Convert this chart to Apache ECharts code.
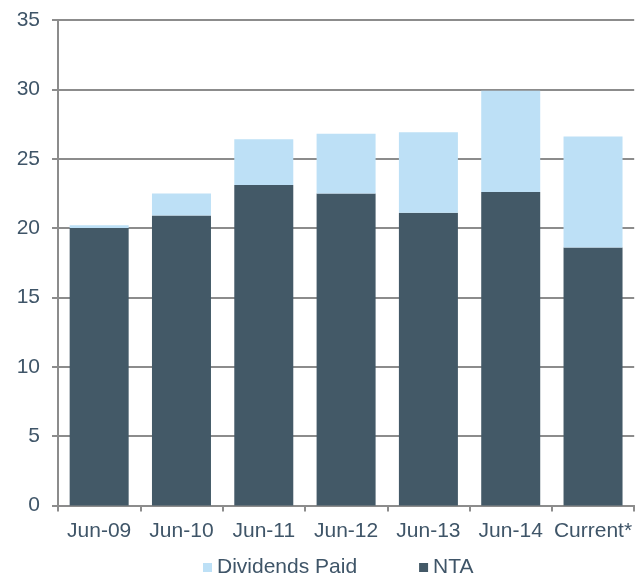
<!DOCTYPE html>
<html>
<head>
<meta charset="utf-8">
<script src="https://cdn.jsdelivr.net/npm/echarts@6/dist/echarts.min.js"></script>
<style>html,body{margin:0;padding:0;background:#fff}#c{width:635px;height:576px}</style>
</head>
<body>
<div id="c"></div>
<script>
var categories = ['Jun-09', 'Jun-10', 'Jun-11', 'Jun-12', 'Jun-13', 'Jun-14', 'Current*'];
var ntaValues = [20.0, 20.9, 23.1, 22.5, 21.1, 22.6, 18.6];
var dividendValues = [0.2, 1.6, 3.3, 4.3, 5.8, 7.3, 8.0];
var seriesNames = ['Dividends Paid', 'NTA'];

var textColor = '#3F5568';
var gridColor = '#8C8C8C';
var font = 'Liberation Sans, Arial, sans-serif';

var chart = echarts.init(document.getElementById('c'), null, {renderer: 'canvas'});
chart.setOption({
  animation: false,
  backgroundColor: '#ffffff',
  grid: {left: 58, right: -1, top: 20, bottom: 70.5, containLabel: false},
  legend: {
    data: seriesNames,
    left: 203, top: 557, padding: 0,
    itemWidth: 9, itemHeight: 9, itemGap: 62,
    icon: 'rect',
    textStyle: {color: textColor, fontSize: 21, fontFamily: font}
  },
  xAxis: {
    type: 'category',
    data: categories,
    axisLine: {lineStyle: {color: gridColor, width: 2}},
    axisTick: {show: true, length: 6, lineStyle: {color: gridColor, width: 2}},
    axisLabel: {color: textColor, fontSize: 21, fontFamily: font, margin: 15, interval: 0}
  },
  yAxis: {
    type: 'value',
    min: 0, max: 35, interval: 5,
    axisLine: {show: true, lineStyle: {color: gridColor, width: 2}},
    axisTick: {show: true, length: 6, lineStyle: {color: gridColor, width: 2}},
    axisLabel: {color: textColor, fontSize: 21, fontFamily: font, margin: 18},
    splitLine: {show: true, lineStyle: {color: gridColor, width: 2}}
  },
  series: [
    {
      name: 'NTA', type: 'bar', stack: 'total', data: ntaValues,
      barWidth: 59,
      itemStyle: {color: '#435967'}
    },
    {
      name: 'Dividends Paid', type: 'bar', stack: 'total', data: dividendValues,
      barWidth: 59,
      itemStyle: {color: '#BDE0F6'}
    }
  ]
});
</script>
</body>
</html>
